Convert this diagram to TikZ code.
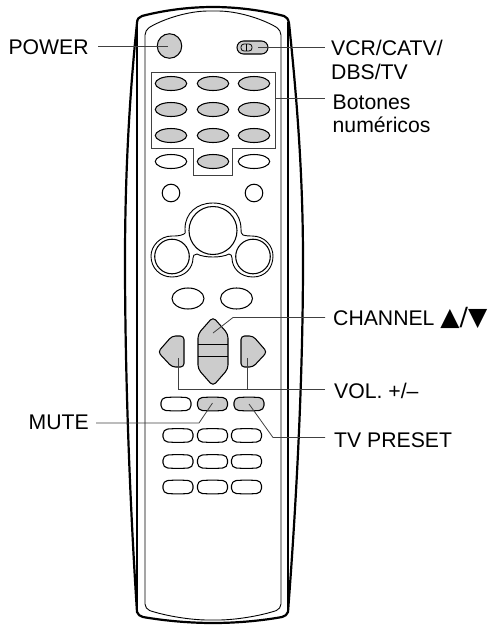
\documentclass[tikz,border=0pt]{standalone}
\usepackage{fontspec}
\setmainfont{Liberation Sans}
\newfontfamily\symfont{DejaVu Sans}
\tikzset{x=1pt,y=-1pt,
 key/.style={draw=black,line width=1.05pt,fill=black!20},
 wkey/.style={draw=black,line width=1.05pt,fill=white},
 leader/.style={draw=black!75,line width=.8pt},
 lab/.style={font=\fontsize{21.2}{24}\selectfont,inner sep=0pt,align=left,anchor=base west}}
\newcommand{\rk}[3]{\draw[#3,rounded corners=4.5pt] (#1-15,#2-6) .. controls (#1-5,#2-7) and (#1+5,#2-7) .. (#1+15,#2-6) -- (#1+15,#2+6) .. controls (#1+5,#2+7) and (#1-5,#2+7) .. (#1-15,#2+6) -- cycle;}
\begin{document}
\begin{tikzpicture}
\useasboundingbox (0,0) rectangle (490,625);
% body
\draw[line width=1.1pt] (137,22) -- (137,610);
\draw[line width=1.1pt] (288,22) -- (288,610);
\draw[line width=.9pt,rounded corners=5pt] (145,30) .. controls (165,18) and (190,11) .. (213,11) .. controls (236,11) and (261,18) .. (281,30) -- (281,609) .. controls (260,616) and (235,620) .. (213,620) .. controls (191,620) and (166,616) .. (145,609) -- cycle;
\draw[line width=2.2pt] (137,23) .. controls (137,19) and (139,17) .. (142,16) .. controls (165,10) and (190,7) .. (213,7) .. controls (236,7) and (261,10) .. (284,16) .. controls (287,17) and (288,19) .. (289,23) .. controls (296,90) and (303,170) .. (303,260) .. controls (303,390) and (295,520) .. (288,612) .. controls (287,615) and (285,616) .. (282,617) .. controls (260,621) and (235,623) .. (213,623) .. controls (191,623) and (166,621) .. (143,617) .. controls (140,616) and (138,615) .. (137,612) .. controls (131,520) and (125,390) .. (125,260) .. controls (125,170) and (130,90) .. (137,23) -- cycle;
% power
\node[key,circle,minimum size=24.5pt,inner sep=0pt] (power) at (169.5,46) {};
% switch
\draw[key,rounded corners=6.5pt] (237,41) rectangle (268,54);
\draw[line width=.8pt,fill=black!20,rounded corners=3pt] (241,44) rectangle (252,51);
\draw[line width=.8pt] (246,44) -- (246,51);
\coordinate (sw) at (258,47);
% number box
\draw[line width=.9pt,draw=black!75] (151,72) -- (275,72) -- (275,148) -- (232,148) -- (232,175) -- (193,175) -- (193,148) -- (151,148) -- cycle;
\coordinate (numbox) at (275,98.5);
\foreach \x in {171,213,254} \foreach \y in {83.5,109.5,135.5}
  \draw[key] (\x,\y) ellipse (15.7pt and 7pt);
\draw[wkey] (171,161.5) ellipse (15.7pt and 7pt);
\draw[key] (213,161.5) ellipse (15.7pt and 7pt);
\draw[wkey] (254,161.5) ellipse (15.7pt and 7pt);
% small circles
\draw[wkey] (171,193) circle (8.8pt);
\draw[wkey] (254,193) circle (8.8pt);
% cluster
\draw[line width=.9pt,fill=white] (184,234) .. controls (186,234) and (185,232) .. (185,229) .. controls (185,213) and (197,203) .. (213,203) .. controls (229,203) and (241,213) .. (241,229) .. controls (241,232) and (241,234) .. (243,235) .. controls (247,236) and (249,236) .. (252,236) .. controls (265,236) and (273,246) .. (273,256) .. controls (273,268) and (265,277) .. (253,277) .. controls (240,277) and (232,268) .. (232,258) .. controls (232,256) and (231,254) .. (229,254) .. controls (222,258) and (204,258) .. (197,254) .. controls (194,254) and (193,256) .. (193,258) .. controls (193,268) and (185,277) .. (172,277) .. controls (160,277) and (151,268) .. (151,256) .. controls (151,246) and (160,236) .. (172,236) .. controls (176,236) and (180,236) .. (184,234) -- cycle;
\draw[wkey] (213,230.5) circle (24pt);
\draw[wkey] (172,256.5) circle (17.3pt);
\draw[wkey] (253,256.5) circle (17.3pt);
\draw[wkey] (188,298.5) ellipse (16pt and 10.5pt);
\draw[wkey] (236.5,298.5) ellipse (16pt and 10.5pt);
% channel
\draw[key,rounded corners=4pt] (213,317) -- (228,334) -- (228,369) -- (213,386) -- (198,369) -- (198,334) -- cycle;
\draw[line width=1pt] (198,344) -- (228,344);
\draw[line width=1pt] (198,356) -- (228,356);
\draw[key,rounded corners=3.5pt] (184,336) -- (172,336) -- (158,352) -- (172,367) -- (184,367) -- cycle;
\draw[key,rounded corners=3.5pt] (241,336) -- (253,336) -- (267,352) -- (253,367) -- (241,367) -- cycle;
% bottom keys
\rk{176}{404}{wkey}
\rk{212.5}{404}{key}
\rk{249}{404}{key}
\foreach \y in {435.5,461.5,487} \foreach \x in {178,212.5,246.5} {\rk{\x}{\y}{wkey}}
% labels
\node[lab] (lpower) at (8.4,54.3) {POWER};
\node[lab] (lvcr) at (331,55) {VCR/CATV/};
\node[lab] (ldbs) at (331,79.5) {DBS/TV};
\node[lab] (lbot) at (332.5,109) {Botones};
\node[lab] (lnum) at (332.5,132.7) {numéricos};
\node[lab] (lch) at (333,325.7) {CHANNEL {\symfont\fontsize{25}{25}\selectfont ▲/▼}};
\node[lab] (lvol) at (334,398) {VOL. +/–};
\node[lab] (lmute) at (28.5,429) {MUTE};
\node[lab] (ltv) at (334,447.7) {TV PRESET};
% leaders
\coordinate (p0) at (98,46); \coordinate (p1) at (168,46);
\coordinate (s1) at (325,47); \coordinate (n1) at (325,98.5);
\coordinate (c0) at (325,317.5); \coordinate (c1) at (213,333); \coordinate (c2) at (233,317.5);
\coordinate (v0) at (325,389); \coordinate (v1) at (178,358); \coordinate (v2) at (247,358); \coordinate (v3) at (178,389); \coordinate (v4) at (247,389);
\coordinate (m0) at (96,423); \coordinate (m1) at (212.5,403); \coordinate (m2) at (199,423);
\coordinate (t0) at (325,437.5); \coordinate (t1) at (249,404); \coordinate (t2) at (273,437.5);
\draw[leader] (p0) -- (p1);
\draw[leader] (sw) -- (s1);
\draw[leader] (numbox) -- (n1);
\draw[leader] (c0) -- (c2) -- (c1);
\draw[leader] (v0) -- (v3) -- (v1);
\draw[leader] (v4) -- (v2);
\draw[leader] (m0) -- (m2) -- (m1);
\draw[leader] (t0) -- (t2) -- (t1);
\end{tikzpicture}
\end{document}
